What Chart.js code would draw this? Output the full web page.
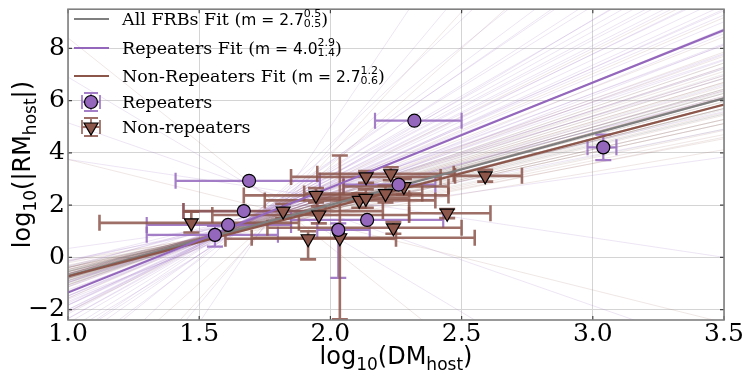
<!DOCTYPE html>
<html><head><meta charset="utf-8">
<script src="https://cdn.jsdelivr.net/npm/chart.js@4.4.1/dist/chart.umd.min.js"></script>
<style>html,body{margin:0;padding:0;background:#fff;}</style>
</head><body>
<canvas id="c" width="747" height="378"></canvas>
<script>
// ---- axes / ticks
const xTicks = [1.0, 1.5, 2.0, 2.5, 3.0, 3.5];
const yTicks = [-2, 0, 2, 4, 6, 8];
const xRange = [1.0, 3.5];
const yRange = [-2.4, 9.5];

// ---- best fits (y = intercept + slope * x)
const fitNames = ['All FRBs Fit', 'Repeaters Fit', 'Non-Repeaters Fit'];
const fitSlope = [2.72, 4.02, 2.63];
const fitIntercept = [-3.43, -5.37, -3.36];
const fitM = ['2.7', '4.0', '2.7'];
const fitUp = ['0.5', '2.9', '1.2'];
const fitDown = ['0.5', '1.4', '0.6'];

// ---- repeaters
const repX   = [2.32, 3.04, 1.69, 1.67, 1.61, 1.56, 2.03, 2.14, 2.26];
const repY   = [5.23, 4.21, 2.93, 1.77, 1.24, 0.86, 1.05, 1.43, 2.78];
const repXlo = [2.17, 2.98, 1.41, 1.44, 1.30, 1.30, 1.95, 1.85, 2.05];
const repXhi = [2.50, 3.09, 1.96, 1.95, 1.85, 1.80, 2.15, 2.43, 2.40];
const repYlo = [5.23, 3.72, 2.93, 1.77, 1.24, 0.41, -0.79, 1.43, 2.78];
const repYhi = [5.23, 4.70, 2.93, 1.77, 1.24, 1.20, 1.30, 1.43, 2.78];

// ---- non-repeaters
const nrX   = [1.47, 1.82, 1.945, 1.956, 1.915, 2.036, 2.136, 2.23, 2.28, 2.21, 2.11, 2.135, 2.445, 2.24, 2.59];
const nrY   = [1.32, 1.77, 2.37, 1.62, 0.71, 0.75, 3.08, 3.20, 2.71, 2.44, 2.18, 2.26, 1.69, 1.13, 3.12];
const nrXlo = [1.12, 1.44, 1.67, 1.55, 1.60, 1.70, 1.85, 1.95, 2.05, 1.90, 1.75, 1.95, 2.30, 1.76, 2.475];
const nrXhi = [1.88, 2.20, 2.45, 2.30, 2.25, 2.55, 2.42, 2.47, 2.45, 2.35, 2.40, 2.30, 2.61, 2.50, 2.73];
const nrYlo = [0.95, 1.50, 2.10, 1.30, -0.08, -2.37, 2.85, 2.95, 2.40, 2.10, 1.90, 1.90, 1.50, 0.90, 2.90];
const nrYhi = [1.75, 2.05, 2.65, 1.95, 1.00, 3.90, 3.30, 3.45, 3.00, 2.75, 2.45, 2.60, 1.85, 1.35, 3.35];

// ---- posterior sample lines (slope, value at log DM = 1.9)
const samplePivot = 1.9;
const repSampleSlope = [4.0,3.2,4.8,3.6,5.5,2.9,4.3,6.2,3.9,4.6,2.6,5.1,3.4,7.0,4.1,3.0,5.8,4.4,2.3,6.8,3.7,4.9,8.1,3.3,5.3,2.0,4.2,9.5,3.8,-3.5,12.0,-6.0,15.0,1.4,4.7,6.5,3.1,5.0,2.8,7.5,3.5,4.5,5.2,2.5,6.0,3.9,4.1,5.6,3.3,-1.5];
const repSampleMid   = [2.3,2.1,2.5,2.0,2.6,2.2,2.4,2.8,1.9,2.3,2.0,2.5,2.1,2.9,2.2,1.8,2.7,2.4,1.9,3.0,2.2,2.4,3.2,2.0,2.6,1.7,2.3,3.4,2.1,2.0,3.0,1.5,3.5,1.6,2.4,2.7,2.0,2.5,1.9,2.9,2.2,2.3,2.6,2.1,2.5,2.4,2.0,2.7,2.3,2.4];
const nrSampleSlope  = [2.7,2.4,3.0,2.2,3.3,2.6,2.9,2.1,3.6,2.5,2.8,3.1,1.9,3.9,2.3,2.7,3.4,2.0,2.6,4.3,2.8,2.4,3.2,1.7,2.9,5.0,-2.5,9.0,2.5,3.0,-8.0,2.2,3.5,2.7,11.0,2.6,2.3,3.1,2.8,2.0];
const nrSampleMid    = [1.8,1.7,1.9,1.6,2.0,1.8,1.9,1.5,2.1,1.7,1.8,2.0,1.5,2.2,1.6,1.8,2.0,1.4,1.7,2.3,1.9,1.6,2.0,1.4,1.8,2.4,1.5,2.6,1.7,1.9,1.2,1.6,2.1,1.8,2.8,1.7,1.6,1.9,1.7,1.5];
const allSampleSlope = [2.7,2.5,2.9,2.4,3.1,2.6,2.8,2.3,3.2,2.7,2.5,3.0,2.2,2.9,2.6,3.3,2.4,2.8,2.1,3.4,2.6,2.9,2.7,2.5];
const allSampleMid   = [1.75,1.7,1.8,1.65,1.9,1.7,1.8,1.6,1.9,1.75,1.65,1.85,1.6,1.8,1.7,1.95,1.65,1.8,1.55,2.0,1.8,1.7,1.75,1.7];

// ---- styles
const PURPLE = '#9467bd', BROWN = '#8c564b', GRAY = '#7f7f7f';
const fitColors = [GRAY, PURPLE, BROWN];
const SERIF = '"DejaVu Serif", serif';
const SANS = '"DejaVu Sans", sans-serif';

const datasets = [];
datasets.push({
  label: 'Repeaters', data: repX.map((x, i) => ({x, y: repY[i]})),
  pointStyle: 'circle', pointRadius: 6.5, pointBackgroundColor: PURPLE,
  pointBorderColor: '#000', pointBorderWidth: 1.2, order: 1, clip: 0
});
datasets.push({
  label: 'Non-repeaters', data: nrX.map((x, i) => ({x, y: nrY[i]})),
  pointStyle: 'triangle', pointRotation: 180, pointRadius: 8, pointBackgroundColor: BROWN,
  pointBorderColor: '#000', pointBorderWidth: 1.2, order: 2, clip: 0
});
const fitOrder = [7, 5, 6];
for (let i = 0; i < 3; i++) {
  datasets.push({
    label: fitNames[i], showLine: true,
    data: xRange.map(x => ({x, y: fitIntercept[i] + fitSlope[i] * x})),
    borderColor: fitColors[i], borderWidth: 2.2, pointRadius: 0, order: fitOrder[i], clip: 0,
    errBefore: i === 0
  });
}
function addSamples(slopes, mids, color) {
  slopes.forEach((m, i) => {
    datasets.push({
      label: 'sample', showLine: true,
      data: xRange.map(x => ({x, y: mids[i] + m * (x - samplePivot)})),
      borderColor: color, borderWidth: 1, pointRadius: 0, order: 10, clip: 0
    });
  });
}
addSamples(allSampleSlope, allSampleMid, 'rgba(127,127,127,0.14)');
addSamples(nrSampleSlope, nrSampleMid, 'rgba(140,86,75,0.14)');
addSamples(repSampleSlope, repSampleMid, 'rgba(148,103,189,0.17)');

function drawErrs(chart, xs, ys, xlo, xhi, ylo, yhi, color, lw, cap) {
  const {ctx, chartArea: a, scales: {x: X, y: Y}} = chart;
  ctx.save();
  ctx.beginPath(); ctx.rect(a.left, a.top, a.right - a.left, a.bottom - a.top); ctx.clip();
  ctx.strokeStyle = color; ctx.lineWidth = lw;
  for (let i = 0; i < xs.length; i++) {
    const px = X.getPixelForValue(xs[i]), py = Y.getPixelForValue(ys[i]);
    const l = X.getPixelForValue(xlo[i]), r = X.getPixelForValue(xhi[i]);
    ctx.beginPath();
    ctx.moveTo(l, py); ctx.lineTo(r, py);
    ctx.moveTo(l, py - cap); ctx.lineTo(l, py + cap);
    ctx.moveTo(r, py - cap); ctx.lineTo(r, py + cap);
    if (ylo[i] !== yhi[i]) {
      const b = Y.getPixelForValue(ylo[i]), t = Y.getPixelForValue(yhi[i]);
      ctx.moveTo(px, b); ctx.lineTo(px, t);
      ctx.moveTo(px - cap, b); ctx.lineTo(px + cap, b);
      ctx.moveTo(px - cap, t); ctx.lineTo(px + cap, t);
    }
    ctx.stroke();
  }
  ctx.restore();
}

function richWidth(ctx, parts) {
  let w = 0;
  for (const p of parts) {
    if (p.stack) { ctx.font = p.font; w += Math.max(ctx.measureText(p.stack[0]).width, ctx.measureText(p.stack[1]).width); }
    else { ctx.font = p.font; w += ctx.measureText(p.t).width; }
  }
  return w;
}
function drawRich(ctx, parts, x, y) {
  ctx.textBaseline = 'alphabetic'; ctx.textAlign = 'left';
  for (const p of parts) {
    ctx.font = p.font;
    if (p.stack) {
      ctx.fillText(p.stack[0], x, y + p.dUp);
      ctx.fillText(p.stack[1], x, y + p.dDown);
      x += Math.max(ctx.measureText(p.stack[0]).width, ctx.measureText(p.stack[1]).width);
    } else {
      ctx.fillText(p.t, x, y + (p.dy || 0));
      x += ctx.measureText(p.t).width;
    }
  }
}

const custom = {
  id: 'custom',
  beforeDatasetDraw(chart, args) {
    const ds = chart.data.datasets[args.index];
    if (ds.errBefore) {
      drawErrs(chart, repX, repY, repXlo, repXhi, repYlo, repYhi, 'rgba(148,103,189,0.85)', 2.2, 8);
      drawErrs(chart, nrX, nrY, nrXlo, nrXhi, nrYlo, nrYhi, 'rgba(140,86,75,0.85)', 2.6, 8);
    }
  },
  afterDraw(chart) {
    const {ctx, chartArea: a, scales: {x: X, y: Y}} = chart;
    ctx.save();
    // inward ticks
    ctx.strokeStyle = '#444'; ctx.lineWidth = 1.2;
    ctx.beginPath();
    yTicks.forEach(v => { const p = Y.getPixelForValue(v); ctx.moveTo(a.left, p); ctx.lineTo(a.left + 4, p); ctx.moveTo(a.right, p); ctx.lineTo(a.right - 4, p); });
    xTicks.forEach(v => { const p = X.getPixelForValue(v); ctx.moveTo(p, a.bottom); ctx.lineTo(p, a.bottom - 4); ctx.moveTo(p, a.top); ctx.lineTo(p, a.top + 4); });
    ctx.stroke();
    // frame
    ctx.strokeStyle = '#808080'; ctx.lineWidth = 1.6;
    ctx.strokeRect(a.left, a.top, a.right - a.left, a.bottom - a.top);
    // axis titles
    ctx.fillStyle = '#000';
    const big = '24px ' + SANS, small = '17px ' + SANS;
    const xt = [{t: 'log', font: big}, {t: '10', font: small, dy: 6}, {t: '(DM', font: big}, {t: 'host', font: small, dy: 6}, {t: ')', font: big}];
    const xw = richWidth(ctx, xt);
    drawRich(ctx, xt, (a.left + a.right) / 2 - xw / 2, 364);
    const yt = [{t: 'log', font: big}, {t: '10', font: small, dy: 6}, {t: '(|RM', font: big}, {t: 'host', font: small, dy: 6}, {t: '|)', font: big}];
    const yw = richWidth(ctx, yt);
    ctx.save();
    ctx.translate(30, (a.top + a.bottom) / 2 + yw / 2);
    ctx.rotate(-Math.PI / 2);
    drawRich(ctx, yt, 0, 0);
    ctx.restore();
    // legend
    const rowY = [19, 48, 76, 102, 127];
    const txtX = 122;
    const serif = '17.5px ' + SERIF, sans = '15.5px ' + SANS, tiny = '11px ' + SANS;
    for (let i = 0; i < 3; i++) {
      ctx.strokeStyle = fitColors[i]; ctx.lineWidth = 2.2;
      ctx.beginPath(); ctx.moveTo(74, rowY[i]); ctx.lineTo(109, rowY[i]); ctx.stroke();
      ctx.fillStyle = '#000';
      drawRich(ctx, [
        {t: fitNames[i] + ' (', font: serif},
        {t: 'm = ' + fitM[i], font: sans},
        {stack: [fitUp[i], fitDown[i]], font: tiny, dUp: -8, dDown: 2},
        {t: ')', font: serif}
      ], txtX, rowY[i] + 6);
    }
    const mk = [[PURPLE, 'rgba(148,103,189,0.85)', 'circle', 'Repeaters'], [BROWN, 'rgba(140,86,75,0.85)', 'tri', 'Non-repeaters']];
    mk.forEach((m, k) => {
      const cy = rowY[3 + k], cx = 91;
      ctx.strokeStyle = m[1]; ctx.lineWidth = 1.8;
      ctx.beginPath();
      ctx.moveTo(cx - 9, cy); ctx.lineTo(cx + 9, cy);
      ctx.moveTo(cx - 9, cy - 7); ctx.lineTo(cx - 9, cy + 7);
      ctx.moveTo(cx + 9, cy - 7); ctx.lineTo(cx + 9, cy + 7);
      ctx.moveTo(cx, cy - 9); ctx.lineTo(cx, cy + 9);
      ctx.moveTo(cx - 7, cy - 9); ctx.lineTo(cx + 7, cy - 9);
      ctx.moveTo(cx - 7, cy + 9); ctx.lineTo(cx + 7, cy + 9);
      ctx.stroke();
      ctx.fillStyle = m[0]; ctx.strokeStyle = '#000'; ctx.lineWidth = 1.2;
      ctx.beginPath();
      if (m[2] === 'circle') ctx.arc(cx, cy, 6.5, 0, Math.PI * 2);
      else { ctx.moveTo(cx - 7, cy - 4); ctx.lineTo(cx + 7, cy - 4); ctx.lineTo(cx, cy + 8); ctx.closePath(); }
      ctx.fill(); ctx.stroke();
      ctx.fillStyle = '#000';
      drawRich(ctx, [{t: m[3], font: serif}], txtX, cy + 6);
    });
    ctx.restore();
  }
};

const fmtTick = v => v < 0 ? '\u2212' + Math.abs(v) : String(v);

new Chart(document.getElementById('c'), {
  type: 'scatter',
  data: {datasets},
  options: {
    responsive: false, animation: false, devicePixelRatio: 1,
    layout: {padding: {left: 0, right: 23, top: 3, bottom: 0}},
    plugins: {legend: {display: false}, tooltip: {enabled: false}},
    events: [],
    scales: {
      x: {
        type: 'linear', min: xRange[0], max: xRange[1],
        afterBuildTicks: s => { s.ticks = xTicks.map(v => ({value: v})); },
        afterFit: s => { s.height = 58; s.paddingLeft = 0; s.paddingRight = 0; },
        ticks: {callback: v => v.toFixed(1), font: {family: SERIF, size: 25}, color: '#000', padding: -1, maxRotation: 0},
        grid: {color: '#d4d4d4', lineWidth: 1, drawTicks: false},
        border: {display: false}
      },
      y: {
        type: 'linear', min: yRange[0], max: yRange[1],
        afterBuildTicks: s => { s.ticks = yTicks.map(v => ({value: v})); },
        afterFit: s => { s.width = 68; s.paddingTop = 0; s.paddingBottom = 0; },
        ticks: {callback: v => fmtTick(v), font: {family: SERIF, size: 25}, color: '#000', padding: 3},
        grid: {color: '#d4d4d4', lineWidth: 1, drawTicks: false},
        border: {display: false}
      }
    }
  },
  plugins: [custom]
});
</script>
</body></html>
